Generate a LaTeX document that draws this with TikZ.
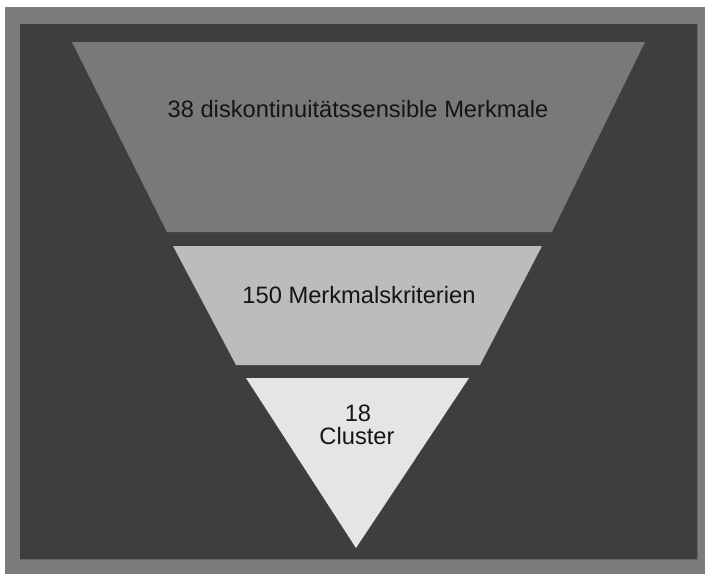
\documentclass[tikz,border=0pt]{standalone}
\usepackage{fontspec}
\setmainfont{Liberation Sans}
\definecolor{outergray}{HTML}{7B7B7B}
\definecolor{darkbg}{HTML}{3E3E3E}
\definecolor{lvlone}{HTML}{797979}
\definecolor{lvltwo}{HTML}{BCBCBC}
\definecolor{lvlthree}{HTML}{E5E5E5}
\definecolor{txt}{HTML}{151515}
\tikzset{
  lbl/.style={inner sep=0pt, anchor=base, text=txt, font=\fontsize{23.7}{26}\selectfont},
  level/.style={draw=none}
}
\begin{document}
\begin{tikzpicture}[x=1pt,y=-1pt]
\useasboundingbox (0,0) rectangle (705,574);
\fill[white] (0,0) rectangle (705,574);
\fill[outergray] (5,7) rectangle (705,574);
\fill[darkbg] (20,24) rectangle (697,559);
\draw[line width=0.8pt, color=black!80!white, opacity=0.25] (20,24) rectangle (697,559);
% levels
\fill[lvlone, level] (72,42) -- (645,42) -- (552,232) -- (167,232) -- cycle;
\fill[lvltwo, level] (173,246) -- (542,246) -- (480,365) -- (236,365) -- cycle;
\fill[lvlthree, level] (246,378) -- (469,378) -- (356,548) -- cycle;
% labels
\node[lbl] (t1) at (358,117) {38 diskontinuitätssensible Merkmale};
\node[lbl] (t2) at (359,303) {150 Merkmalskriterien};
\node[lbl] (t3a) at (358,421) {18};
\node[lbl] (t3b) at (357,444) {Cluster};
\end{tikzpicture}
\end{document}
